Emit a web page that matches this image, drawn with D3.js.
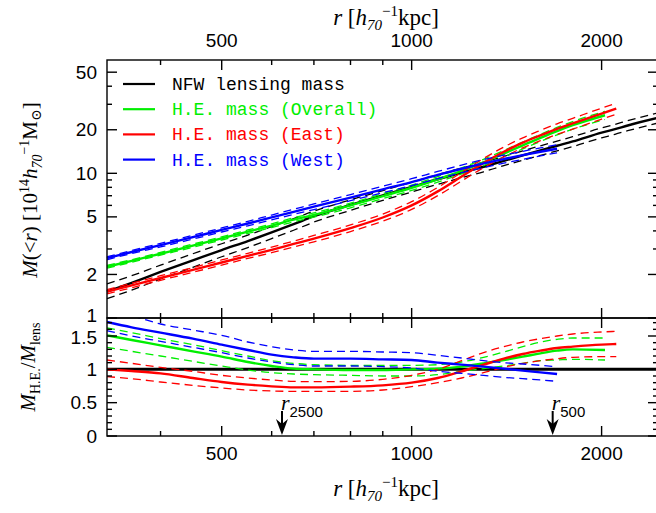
<!DOCTYPE html>
<html>
<head>
<meta charset="utf-8">
<script src="https://cdn.jsdelivr.net/npm/d3@7"></script>
<style>
  body { margin: 0; background: #fff; }
  svg { display: block; }
</style>
</head>
<body>
<svg id="chart" width="656" height="513"></svg>
<script>
// ---- data (r in h70^-1 kpc, M in 10^14 h70^-1 Msun) ----
const rNfw = [329, 360, 400, 450, 500, 550, 600, 650, 700, 800, 900, 1000, 1100, 1200, 1300, 1400, 1500, 1600, 1700, 1800, 2000, 2100, 2200, 2460];
const mNfw   = [1.52, 1.75, 2.08, 2.5, 2.95, 3.4, 3.9, 4.45, 5.05, 6.05, 7.05, 8.05, 9.1, 10.1, 11.1, 12.2, 13.3, 14.4, 15.5, 16.6, 19.1, 20.2, 21.4, 24.2];
const mNfwHi = [1.72, 1.96, 2.32, 2.78, 3.26, 3.74, 4.28, 4.86, 5.48, 6.55, 7.6, 8.68, 9.8, 10.87, 11.94, 13.1, 14.3, 15.5, 16.7, 17.9, 20.6, 21.8, 23.1, 26.2];
const mNfwLo = [1.36, 1.56, 1.86, 2.24, 2.65, 3.07, 3.54, 4.04, 4.6, 5.55, 6.5, 7.42, 8.4, 9.33, 10.25, 11.3, 12.3, 13.3, 14.3, 15.3, 17.6, 18.6, 19.7, 22.3];

const rOverall = [329, 360, 400, 450, 500, 550, 600, 650, 700, 800, 900, 1000, 1100, 1200, 1300, 1400, 1500, 1600, 1700, 1800, 2025];
const mOverall   = [2.26, 2.48, 2.78, 3.16, 3.55, 3.95, 4.35, 4.78, 5.15, 6.0, 6.95, 7.95, 9.1, 10.4, 11.9, 13.7, 15.6, 17.6, 19.6, 21.5, 25.2];
const mOverallHi = [2.31, 2.53, 2.84, 3.24, 3.64, 4.06, 4.48, 4.93, 5.32, 6.22, 7.22, 8.28, 9.5, 10.9, 12.5, 14.4, 16.45, 18.6, 20.75, 22.8, 26.8];
const mOverallLo = [2.21, 2.43, 2.72, 3.08, 3.46, 3.84, 4.22, 4.63, 4.98, 5.78, 6.68, 7.62, 8.7, 9.9, 11.3, 13.0, 14.75, 16.6, 18.45, 20.2, 23.6];
const qOverall   = [1.51, 1.44, 1.36, 1.27, 1.19, 1.11, 1.05, 1.01, 1.0, 0.99, 0.99, 1.0, 1.01, 1.04, 1.09, 1.14, 1.19, 1.24, 1.28, 1.30, 1.29];
const qOverallHi = [1.62, 1.55, 1.46, 1.37, 1.28, 1.20, 1.13, 1.09, 1.07, 1.06, 1.06, 1.06, 1.07, 1.11, 1.18, 1.26, 1.34, 1.41, 1.45, 1.47, 1.47];
const qOverallLo = [1.33, 1.27, 1.20, 1.12, 1.05, 0.99, 0.95, 0.93, 0.92, 0.91, 0.90, 0.90, 0.92, 0.97, 1.01, 1.05, 1.09, 1.13, 1.14, 1.15, 1.14];

const rEast = [329, 360, 400, 450, 500, 550, 600, 650, 700, 800, 900, 1000, 1100, 1200, 1300, 1400, 1500, 1600, 1700, 1800, 2000, 2110];
const mEast   = [1.52, 1.68, 1.89, 2.15, 2.42, 2.69, 2.96, 3.25, 3.54, 4.18, 4.95, 6.0, 7.5, 9.5, 11.8, 14.1, 16.3, 18.3, 20.3, 22.1, 25.9, 28.0];
const mEastHi = [1.57, 1.74, 1.96, 2.23, 2.52, 2.8, 3.09, 3.4, 3.72, 4.4, 5.23, 6.37, 7.99, 10.15, 12.65, 15.2, 17.6, 19.8, 22.0, 24.0, 28.2, 30.5];
const mEastLo = [1.47, 1.62, 1.82, 2.07, 2.32, 2.58, 2.83, 3.1, 3.36, 3.96, 4.67, 5.63, 7.01, 8.85, 10.95, 13.0, 15.0, 16.8, 18.6, 20.2, 23.7, 25.6];
const qEast   = [1.0, 0.975, 0.94, 0.87, 0.81, 0.77, 0.745, 0.73, 0.73, 0.74, 0.76, 0.80, 0.87, 0.97, 1.07, 1.16, 1.23, 1.28, 1.32, 1.34, 1.37, 1.38];
const qEastHi = [1.14, 1.09, 1.03, 0.97, 0.91, 0.87, 0.84, 0.82, 0.815, 0.82, 0.85, 0.91, 1.00, 1.13, 1.25, 1.34, 1.41, 1.46, 1.50, 1.53, 1.56, 1.57];
const qEastLo = [0.89, 0.86, 0.81, 0.76, 0.72, 0.69, 0.675, 0.67, 0.67, 0.67, 0.69, 0.74, 0.80, 0.87, 0.95, 1.03, 1.09, 1.13, 1.16, 1.18, 1.19, 1.19];

const rWest = [329, 360, 400, 450, 500, 550, 600, 650, 700, 800, 900, 1000, 1100, 1200, 1300, 1400, 1500, 1600, 1700];
const mWest   = [2.59, 2.86, 3.19, 3.62, 4.06, 4.5, 4.96, 5.42, 5.88, 6.8, 7.75, 8.7, 9.75, 10.75, 11.7, 12.55, 13.35, 14.1, 14.8];
const mWestHi = [2.65, 2.93, 3.28, 3.73, 4.19, 4.66, 5.15, 5.64, 6.14, 7.13, 8.15, 9.18, 10.3, 11.4, 12.45, 13.35, 14.2, 15.0, 15.75];
const mWestLo = [2.53, 2.79, 3.1, 3.51, 3.93, 4.34, 4.77, 5.2, 5.62, 6.47, 7.35, 8.22, 9.2, 10.1, 10.95, 11.75, 12.5, 13.2, 13.85];
const qWest   = [1.71, 1.63, 1.55, 1.46, 1.37, 1.29, 1.22, 1.18, 1.16, 1.16, 1.15, 1.14, 1.10, 1.07, 1.04, 1.01, 0.98, 0.955, 0.93];
const qWestHi = [1.86, 1.80, 1.68, 1.59, 1.51, 1.41, 1.34, 1.29, 1.27, 1.27, 1.26, 1.25, 1.21, 1.17, 1.13, 1.10, 1.08, 1.06, 1.04];
const qWestLo = [1.58, 1.50, 1.42, 1.33, 1.25, 1.17, 1.11, 1.07, 1.05, 1.05, 1.04, 1.02, 0.97, 0.94, 0.91, 0.88, 0.86, 0.84, 0.82];

// tick values
const xMajor = [500, 1000, 2000];
const xMinor = [400, 600, 700, 800, 900];
const mMajor = [1, 2, 5, 10, 20, 50];
const mMinor = [3, 4, 6, 7, 8, 9, 30, 40];
const qMajor = [0, 0.5, 1, 1.5];
const qMinor = [0.1, 0.2, 0.3, 0.4, 0.6, 0.7, 0.8, 0.9, 1.1, 1.2, 1.3, 1.4, 1.6, 1.7];

// characteristic radii marked with arrows
const markers = [{ sub: "2500", r: 623 }, { sub: "500", r: 1673 }];

const legendItems = [
  { label: "NFW lensing mass", color: "#000" },
  { label: "H.E. mass (Overall)", color: "#00ee00" },
  { label: "H.E. mass (East)", color: "#ff0000" },
  { label: "H.E. mass (West)", color: "#0000ff" }
];

// ---- layout ----
const pLeft = 107, pRight = 658, pTop = 60, pMid = 318, pBottom = 436;
const svg = d3.select("#chart");

const x = d3.scaleLog().domain([329, 2457]).range([pLeft, pRight]);
const yM = d3.scaleLog().domain([1, 60.7]).range([pMid, pTop]);
const yQ = d3.scaleLinear().domain([0, 1.77]).range([pBottom, pMid]);

svg.append("defs").append("clipPath").attr("id", "lowClip")
  .append("rect").attr("x", pLeft).attr("y", pMid).attr("width", pRight - pLeft).attr("height", pBottom - pMid);

const zip = (rs, vs) => rs.map((r, i) => [r, vs[i]]);
const lineM = d3.line().x(d => x(d[0])).y(d => yM(d[1])).curve(d3.curveMonotoneX);
const lineQ = d3.line().x(d => x(d[0])).y(d => yQ(d[1])).curve(d3.curveMonotoneX);

const upper = svg.append("g");
const lower = svg.append("g").attr("clip-path", "url(#lowClip)");

function drawSet(g, gen, rs, centre, hi, lo, color) {
  [hi, lo].forEach(arr => {
    g.append("path").attr("d", gen(zip(rs, arr)))
      .attr("fill", "none").attr("stroke", color)
      .attr("stroke-width", 1.3).attr("stroke-dasharray", "8,5");
  });
  g.append("path").attr("d", gen(zip(rs, centre)))
    .attr("fill", "none").attr("stroke", color).attr("stroke-width", 2.4);
}

// upper panel
drawSet(upper, lineM, rNfw, mNfw, mNfwHi, mNfwLo, "#000");
drawSet(upper, lineM, rOverall, mOverall, mOverallHi, mOverallLo, "#00ee00");
drawSet(upper, lineM, rEast, mEast, mEastHi, mEastLo, "#ff0000");
drawSet(upper, lineM, rWest, mWest, mWestHi, mWestLo, "#0000ff");

// lower panel
lower.append("line").attr("x1", pLeft).attr("x2", pRight)
  .attr("y1", yQ(1)).attr("y2", yQ(1)).attr("stroke", "#000").attr("stroke-width", 3);
drawSet(lower, lineQ, rOverall, qOverall, qOverallHi, qOverallLo, "#00ee00");
drawSet(lower, lineQ, rEast, qEast, qEastHi, qEastLo, "#ff0000");
drawSet(lower, lineQ, rWest, qWest, qWestHi, qWestLo, "#0000ff");

// ---- frames and ticks ----
const axes = svg.append("g").attr("stroke", "#000").attr("stroke-width", 1.4);
axes.append("rect").attr("x", pLeft).attr("y", pTop).attr("width", pRight - pLeft).attr("height", pMid - pTop).attr("fill", "none");
axes.append("rect").attr("x", pLeft).attr("y", pMid).attr("width", pRight - pLeft).attr("height", pBottom - pMid).attr("fill", "none");

function xTicks(y0, y1) {
  xMajor.forEach(v => {
    axes.append("line").attr("x1", x(v)).attr("x2", x(v)).attr("y1", y0).attr("y2", y0 + 10);
    axes.append("line").attr("x1", x(v)).attr("x2", x(v)).attr("y1", y1).attr("y2", y1 - 10);
  });
  xMinor.forEach(v => {
    axes.append("line").attr("x1", x(v)).attr("x2", x(v)).attr("y1", y0).attr("y2", y0 + 5);
    axes.append("line").attr("x1", x(v)).attr("x2", x(v)).attr("y1", y1).attr("y2", y1 - 5);
  });
}
xTicks(pTop, pMid);
xTicks(pMid, pBottom);

function yTicks(scale, major, minor) {
  major.forEach(v => {
    axes.append("line").attr("x1", pLeft).attr("x2", pLeft + 10).attr("y1", scale(v)).attr("y2", scale(v));
    axes.append("line").attr("x1", pRight).attr("x2", pRight - 10).attr("y1", scale(v)).attr("y2", scale(v));
  });
  minor.forEach(v => {
    axes.append("line").attr("x1", pLeft).attr("x2", pLeft + 5).attr("y1", scale(v)).attr("y2", scale(v));
    axes.append("line").attr("x1", pRight).attr("x2", pRight - 5).attr("y1", scale(v)).attr("y2", scale(v));
  });
}
yTicks(yM, mMajor, mMinor);
yTicks(yQ, qMajor, qMinor);

// tick labels
const tickFont = "'Liberation Sans', Arial, sans-serif";
svg.append("g").selectAll("text").data(xMajor).join("text")
  .attr("x", d => x(d)).attr("y", 460).attr("text-anchor", "middle")
  .attr("font-family", tickFont).attr("font-size", 19).text(d => d);
svg.append("g").selectAll("text").data(xMajor).join("text")
  .attr("x", d => x(d)).attr("y", 47).attr("text-anchor", "middle")
  .attr("font-family", tickFont).attr("font-size", 19).text(d => d);
svg.append("g").selectAll("text").data(mMajor).join("text")
  .attr("x", 97).attr("y", d => yM(d) + (d === 1 ? 4 : 6.5)).attr("text-anchor", "end")
  .attr("font-family", tickFont).attr("font-size", 19).text(d => d);
svg.append("g").selectAll("text").data(qMajor).join("text")
  .attr("x", 97).attr("y", d => yQ(d) + (d === 1.5 ? 7.5 : 6.5)).attr("text-anchor", "end")
  .attr("font-family", tickFont).attr("font-size", 19).text(d => d);

// ---- axis titles ----
const serif = "'Liberation Serif', 'DejaVu Serif', serif";
function rTitle(cx, y) {
  const t = svg.append("text").attr("x", cx).attr("y", y).attr("text-anchor", "middle")
    .attr("font-family", serif).attr("font-size", 23);
  t.append("tspan").attr("font-style", "italic").text("r");
  t.append("tspan").text(" [");
  t.append("tspan").attr("font-style", "italic").text("h");
  t.append("tspan").attr("font-size", 15).attr("font-style", "italic").attr("dy", 5).text("70");
  t.append("tspan").attr("font-size", 15).attr("dy", -14).text("\u22121");
  t.append("tspan").attr("dy", 9).text("kpc]");
}
rTitle(386, 25);
rTitle(386, 496);

// upper y title
const yt = svg.append("text").attr("transform", "translate(37,190) rotate(-90)")
  .attr("text-anchor", "middle").attr("font-family", serif).attr("font-size", 21);
yt.append("tspan").attr("font-style", "italic").text("M");
yt.append("tspan").text("(<");
yt.append("tspan").attr("font-style", "italic").text("r");
yt.append("tspan").text(") [10");
yt.append("tspan").attr("font-size", 14).attr("dy", -8).text("14");
yt.append("tspan").attr("font-style", "italic").attr("dy", 8).text("h");
yt.append("tspan").attr("font-size", 14).attr("font-style", "italic").attr("dy", 5).text("70");
yt.append("tspan").attr("font-size", 14).attr("dy", -13).text("\u22121");
yt.append("tspan").attr("dy", 8).text("M");
yt.append("tspan").attr("font-size", 14).attr("dy", 4).text("\u2299");
yt.append("tspan").attr("dy", -4).text("]");

// lower y title
const qt = svg.append("text").attr("transform", "translate(35,367) rotate(-90)")
  .attr("text-anchor", "middle").attr("font-family", serif).attr("font-size", 21);
qt.append("tspan").attr("font-style", "italic").text("M");
qt.append("tspan").attr("font-size", 14).attr("dy", 5).text("H.E.");
qt.append("tspan").attr("dy", -5).text("/");
qt.append("tspan").attr("font-style", "italic").text("M");
qt.append("tspan").attr("font-size", 14).attr("dy", 5).text("lens");

// ---- r2500 / r500 arrows ----
markers.forEach(m => {
  const xm = x(m.r);
  svg.append("line").attr("x1", xm).attr("x2", xm).attr("y1", 411).attr("y2", 428)
    .attr("stroke", "#000").attr("stroke-width", 2);
  svg.append("path")
    .attr("d", `M${xm},${pBottom - 1} L${xm - 6},${pBottom - 17} L${xm},${pBottom - 12} L${xm + 6},${pBottom - 17} Z`)
    .attr("fill", "#000");
  const t = svg.append("text").attr("x", xm - 1).attr("y", 410).attr("font-family", serif).attr("font-size", 22);
  t.append("tspan").attr("font-style", "italic").text("r");
  t.append("tspan").attr("font-family", tickFont).attr("font-size", 15).attr("dy", 7).text(m.sub);
});

// ---- legend ----
const lg = svg.append("g");
legendItems.forEach((d, i) => {
  const yy = 84 + i * 25.2;
  lg.append("line").attr("x1", 123).attr("x2", 155).attr("y1", yy).attr("y2", yy)
    .attr("stroke", d.color).attr("stroke-width", 2.2);
  lg.append("text").attr("x", 172).attr("y", yy + 6).attr("fill", d.color)
    .attr("font-family", "'Liberation Mono', 'DejaVu Sans Mono', monospace")
    .attr("font-size", 18).text(d.label);
});
</script>
</body>
</html>
